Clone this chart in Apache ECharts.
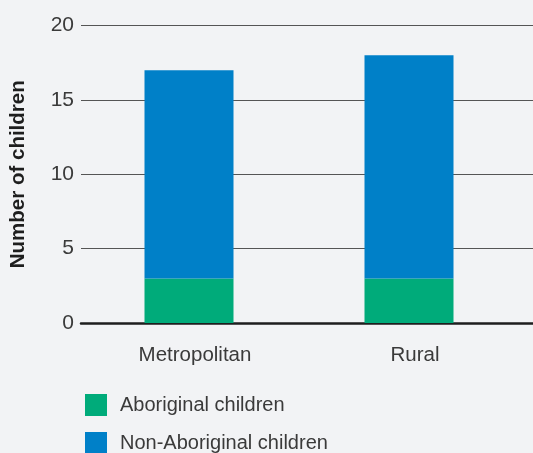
<!DOCTYPE html>
<html>
<head>
<meta charset="utf-8">
<script src="https://cdn.jsdelivr.net/npm/echarts@6/dist/echarts.min.js"></script>
<style>
  html, body { margin: 0; padding: 0; background: #f2f3f5; }
  #chart { width: 533px; height: 453px; }
</style>
</head>
<body>
<div id="chart"></div>
<script>
// Children by location, split by Aboriginal status
const categories = ['Metropolitan', 'Rural'];
const aboriginal = [3, 3];
const nonAboriginal = [14, 15];
const yTicks = [0, 5, 10, 15, 20];

const FONT = '"Liberation Sans", Arial, sans-serif';
const TEXT = '#3a3a3a';
const GREEN = '#00ab7a';
const BLUE = '#0080c8';

const chart = echarts.init(document.getElementById('chart'), null, { renderer: 'canvas' });

chart.setOption({
  backgroundColor: '#f2f3f5',
  animation: false,
  textStyle: { fontFamily: FONT, color: TEXT },
  grid: [
    // full-width grid carrying the horizontal rules and y labels
    { left: 79, right: 0, top: 25.5, bottom: 130 },
    // grid holding the bars and category labels
    { left: 79, width: 440, top: 25.5, bottom: 130 }
  ],
  xAxis: [
    {
      gridIndex: 0, type: 'value', min: 0, max: 1,
      axisLine: { show: true, onZero: false, lineStyle: { color: '#1e1e1e', width: 2.5 } },
      axisTick: { show: false }, axisLabel: { show: false }, splitLine: { show: false }
    },
    {
      gridIndex: 1, type: 'category', data: categories,
      axisLine: { show: false }, axisTick: { show: false },
      axisLabel: {
        margin: 22, fontSize: 20.5, color: TEXT, fontFamily: FONT,
        padding: [0, 0, 0, 12]
      }
    }
  ],
  yAxis: [
    {
      gridIndex: 0, type: 'value', min: yTicks[0], max: yTicks[yTicks.length - 1], interval: 5,
      name: 'Number of children', nameLocation: 'middle', nameGap: 52, nameRotate: 90,
      nameTextStyle: { fontSize: 20.5, fontWeight: 'bold', color: '#1e1e1e', fontFamily: FONT },
      axisLine: { show: false }, axisTick: { show: false },
      axisLabel: { margin: 7, fontSize: 21, color: TEXT, fontFamily: FONT },
      splitLine: { show: true, lineStyle: { color: '#555555', width: 1.2 } }
    },
    {
      gridIndex: 1, type: 'value', min: 0, max: 20, interval: 5, show: false
    }
  ],
  legend: [
    {
      left: 80, top: 389, itemWidth: 22, itemHeight: 22, icon: 'rect',
      textStyle: { fontSize: 20, color: TEXT, fontFamily: FONT, padding: [0, 0, 0, 8] },
      data: ['Aboriginal children']
    },
    {
      left: 80, top: 427, itemWidth: 22, itemHeight: 22, icon: 'rect',
      textStyle: { fontSize: 20, color: TEXT, fontFamily: FONT, padding: [0, 0, 0, 8] },
      data: ['Non-Aboriginal children']
    }
  ],
  series: [
    {
      name: 'Aboriginal children', type: 'bar', stack: 'total',
      xAxisIndex: 1, yAxisIndex: 1, barWidth: 89,
      itemStyle: { color: GREEN }, data: aboriginal
    },
    {
      name: 'Non-Aboriginal children', type: 'bar', stack: 'total',
      xAxisIndex: 1, yAxisIndex: 1, barWidth: 89,
      itemStyle: { color: BLUE }, data: nonAboriginal
    }
  ]
});
</script>
</body>
</html>
